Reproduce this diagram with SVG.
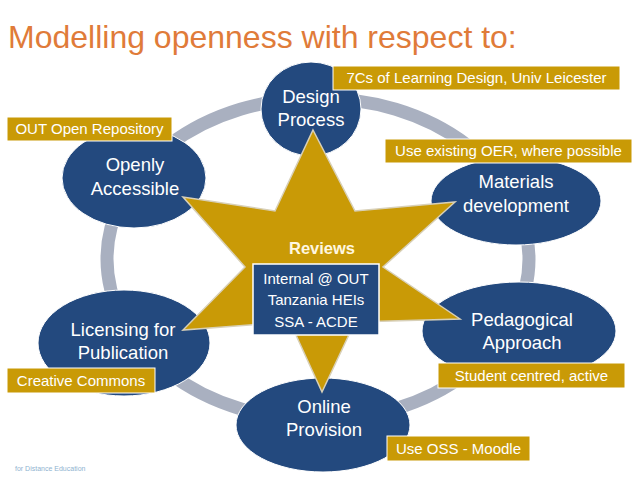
<svg xmlns="http://www.w3.org/2000/svg" width="638" height="479" viewBox="0 0 638 479">
<style>
.node{fill:#23497E;stroke:#ffffff;stroke-width:1}
.nt{font-family:"Liberation Sans",Arial,sans-serif;font-size:18.5px;fill:#ffffff;text-anchor:middle}
.lb{fill:#C99A06;stroke:#ffffff;stroke-width:1}
.lt{font-family:"Liberation Sans",Arial,sans-serif;font-size:15px;fill:#ffffff;text-anchor:middle}
</style>
<rect width="638" height="479" fill="#ffffff"/>
<text x="8" y="48" font-family="Liberation Sans,Arial,sans-serif" font-size="32" fill="#E07B39">Modelling openness with respect to:</text>
<g id="connectors">
<ellipse cx="318" cy="259" rx="211" ry="161" fill="none" stroke="#A9B0C0" stroke-width="13"/>
</g>
<g id="design-process">
<ellipse class="node" cx="311" cy="109" rx="50" ry="47"/>
<text class="nt" x="311" y="103">Design</text>
<text class="nt" x="311" y="126">Process</text>
</g>
<g id="openly-accessible">
<ellipse class="node" cx="134" cy="178" rx="72" ry="50"/>
<text class="nt" x="135" y="171">Openly</text>
<text class="nt" x="135" y="195">Accessible</text>
</g>
<g id="materials-development">
<ellipse class="node" cx="516" cy="201" rx="85" ry="44"/>
<text class="nt" x="516" y="188">Materials</text>
<text class="nt" x="516" y="212">development</text>
</g>
<g id="pedagogical-approach">
<ellipse class="node" cx="519" cy="331" rx="97" ry="49"/>
<text class="nt" x="522" y="326">Pedagogical</text>
<text class="nt" x="522" y="349">Approach</text>
</g>
<g id="online-provision">
<ellipse class="node" cx="323" cy="425" rx="87" ry="47"/>
<text class="nt" x="324" y="413">Online</text>
<text class="nt" x="324" y="436">Provision</text>
</g>
<g id="licensing">
<ellipse class="node" cx="124" cy="343" rx="86" ry="53"/>
<text class="nt" x="123" y="336">Licensing for</text>
<text class="nt" x="123" y="359">Publication</text>
</g>
<g id="reviews">
<polygon points="313,130 355,211 455,202 383,267 460,319 355,322 322,392 290,322 183,330 245,267 183,197 275,211" fill="#C99A06" stroke="#D8D0B8" stroke-width="1.5" stroke-linejoin="miter"/>
<text x="322" y="254" font-family="Liberation Sans,Arial,sans-serif" font-size="16.5" font-weight="bold" fill="#FFF7E0" text-anchor="middle">Reviews</text>
<rect x="253" y="264" width="126" height="71" fill="#23497E" stroke="#ffffff" stroke-width="1.5"/>
<text class="lt" x="316" y="284">Internal @ OUT</text>
<text class="lt" x="316" y="305">Tanzania HEIs</text>
<text class="lt" x="316" y="327">SSA - ACDE</text>
</g>
<g id="label-7cs">
<rect class="lb" x="333" y="66" width="287" height="24"/>
<text class="lt" x="476.5" y="83">7Cs of Learning Design, Univ Leicester</text>
</g>
<g id="label-repository">
<rect class="lb" x="7" y="117" width="165" height="24"/>
<text class="lt" x="89.5" y="134">OUT Open Repository</text>
</g>
<g id="label-oer">
<rect class="lb" x="385" y="139" width="247" height="24"/>
<text class="lt" x="508.5" y="156">Use existing OER, where possible</text>
</g>
<g id="label-cc">
<rect class="lb" x="7" y="368" width="148" height="25"/>
<text class="lt" x="81" y="386">Creative Commons</text>
</g>
<g id="label-student">
<rect class="lb" x="438" y="363" width="187" height="25"/>
<text class="lt" x="531.5" y="381">Student centred, active</text>
</g>
<g id="label-oss">
<rect class="lb" x="387" y="436" width="143" height="25"/>
<text class="lt" x="458.5" y="454">Use OSS - Moodle</text>
</g>
<text x="15" y="471" font-family="Liberation Sans,Arial,sans-serif" font-size="7" fill="#8FB3D0">for Distance Education</text>
</svg>
